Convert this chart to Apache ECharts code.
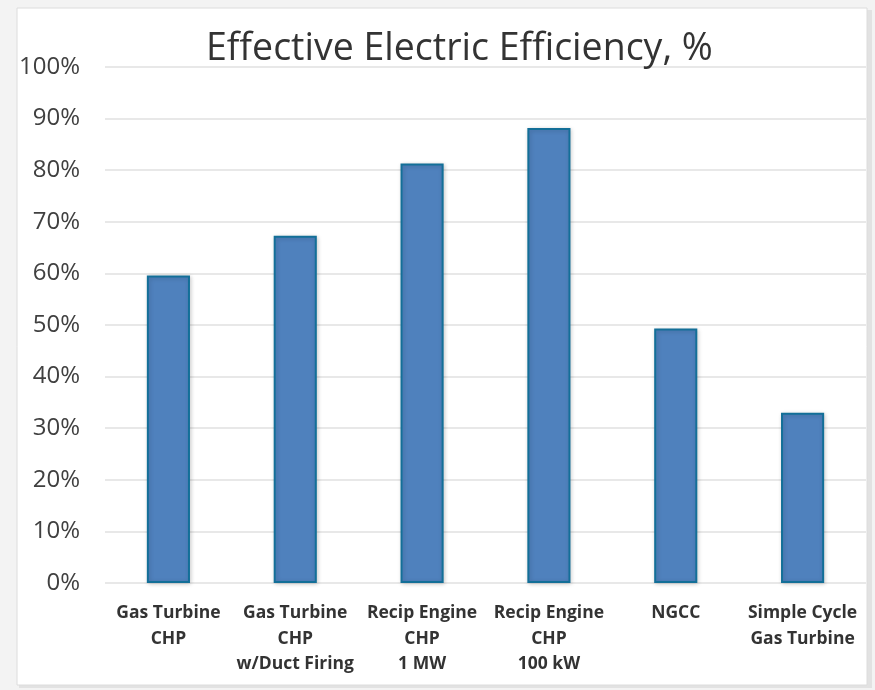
<!DOCTYPE html>
<html><head><meta charset="utf-8">
<script src="https://cdn.jsdelivr.net/npm/echarts@6/dist/echarts.min.js"></script>
<style>html,body{margin:0;padding:0;background:#f3f3f3;}#c{width:875px;height:690px;}</style>
</head><body><div id="c"></div>
<script>
const categories = ["Gas Turbine\nCHP", "Gas Turbine\nCHP\nw/Duct Firing", "Recip Engine\nCHP\n1 MW", "Recip Engine\nCHP\n100 kW", "NGCC", "Simple Cycle\nGas Turbine"];
const efficiency = [59.6, 67.3, 81.3, 88.2, 49.3, 33.0];
const yTicks = [0, 10, 20, 30, 40, 50, 60, 70, 80, 90, 100];
const titleText = "Effective Electric Efficiency, %";

const FONT = "Open Sans";
const chart = echarts.init(document.getElementById('c'), null, {renderer: 'canvas'});
chart.setOption({
  animation: false,
  backgroundColor: '#f3f3f3',
  graphic: [
    {type: 'rect', z: -10, shape: {x: 19, y: 10, width: 853, height: 678}, style: {fill: '#e2e2e2'}},
    {type: 'rect', z: -9, shape: {x: 17, y: 8, width: 850, height: 677}, style: {fill: '#ffffff', stroke: '#dcdcdc', lineWidth: 1}}
  ],
  title: {
    text: titleText, left: 201, top: 25,
    textStyle: {fontFamily: FONT, fontSize: 37.5, fontWeight: 'normal', color: '#333333'}
  },
  grid: {left: 105, right: 9, top: 67, bottom: 107, containLabel: false},
  xAxis: {
    type: 'category', data: categories,
    axisLine: {show: false}, axisTick: {show: false},
    axisLabel: {interval: 0, margin: 17, fontFamily: FONT, fontSize: 17.5, fontWeight: 'bold', color: '#333333', lineHeight: 25.7}
  },
  yAxis: {
    type: 'value', min: 0, max: 100, interval: 10,
    axisLine: {show: false}, axisTick: {show: false},
    splitLine: {lineStyle: {color: '#e0e0e0', width: 1.5}},
    axisLabel: {margin: 25, fontFamily: FONT, fontSize: 24, color: '#404040',
      formatter: v => yTicks.includes(v) ? v + '%' : ''}
  },
  series: [{
    type: 'bar', data: efficiency, barWidth: '34%',
    itemStyle: {color: '#4F81BD', borderColor: '#136f98', borderWidth: 2,
      shadowBlur: 4, shadowColor: 'rgba(0,0,0,0.18)', shadowOffsetX: 1, shadowOffsetY: 1}
  }]
});
</script></body></html>
